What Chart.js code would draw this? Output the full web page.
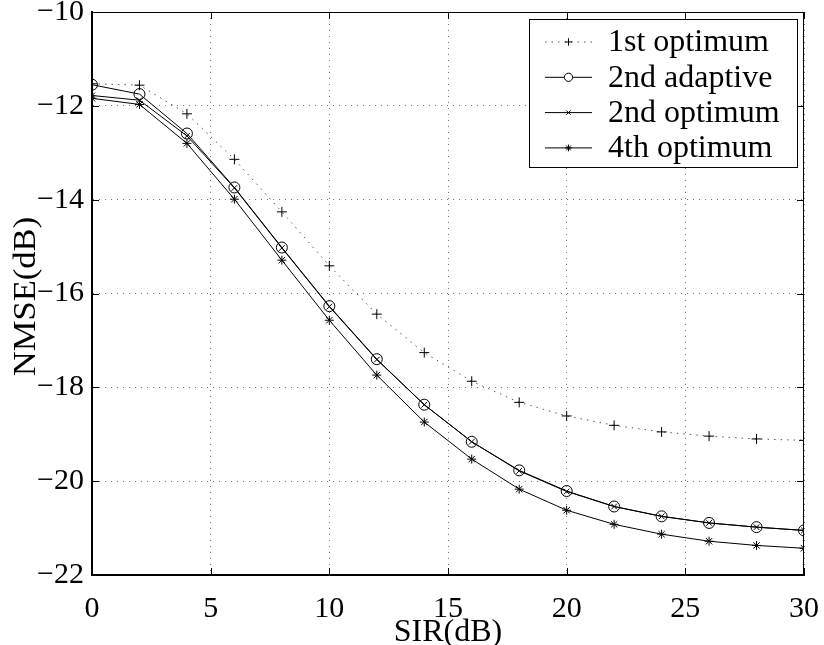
<!DOCTYPE html>
<html>
<head>
<meta charset="utf-8">
<script src="https://cdn.jsdelivr.net/npm/chart.js@4/dist/chart.umd.min.js"></script>
<style>
  html, body { margin: 0; padding: 0; background: #fff; }
  #wrap { width: 824px; height: 645px; }
</style>
</head>
<body>
<div id="wrap"><canvas id="c" width="824" height="645"></canvas></div>
<script>
// Signal-to-interference ratio (dB)
const sir = [0, 2, 4, 6, 8, 10, 12, 14, 16, 18, 20, 22, 24, 26, 28, 30];

// Normalised MSE (dB) for each equaliser
const firstOptimum   = [-11.53, -11.56, -12.17, -13.14, -14.26, -15.41, -16.44, -17.26, -17.87, -18.32, -18.61, -18.81, -18.95, -19.04, -19.10, -19.13];
const secondAdaptive = [-11.55, -11.75, -12.59, -13.74, -15.02, -16.27, -17.40, -18.37, -19.16, -19.77, -20.21, -20.54, -20.75, -20.89, -20.98, -21.05];
const secondOptimum  = [-11.78, -11.88, -12.64, -13.75, -15.03, -16.28, -17.41, -18.37, -19.16, -19.78, -20.22, -20.54, -20.75, -20.89, -20.98, -21.05];
const fourthOptimum  = [-11.84, -11.97, -12.80, -13.99, -15.29, -16.57, -17.74, -18.74, -19.53, -20.17, -20.62, -20.92, -21.13, -21.28, -21.37, -21.43];

const seriesNames = ['1st optimum', '2nd adaptive', '2nd optimum', '4th optimum'];

const xTicks = [0, 5, 10, 15, 20, 25, 30];
const yTicks = [-22, -20, -18, -16, -14, -12, -10];

const xTitle = 'SIR(dB)';
const yTitle = 'NMSE(dB)';

const FONT = "'Liberation Serif', 'Times New Roman', serif";
const fmt = v => (v < 0 ? '\u2212' + Math.abs(v) : String(v));

function series(label, values, pointStyle, radius, dash, color) {
  return {
    label,
    data: sir.map((x, i) => ({ x, y: values[i] })),
    borderColor: color,
    borderWidth: 1,
    borderDash: dash,
    pointStyle,
    pointRadius: radius,
    pointHoverRadius: radius,
    pointBorderColor: '#000',
    pointBackgroundColor: 'rgba(0,0,0,0)',
    pointBorderWidth: 1,
    fill: false,
    tension: 0
  };
}

const datasets = [
  series(seriesNames[0], firstOptimum, 'cross', 5, [1.5, 5], '#555'),
  series(seriesNames[1], secondAdaptive, 'circle', 5.5, [], '#000'),
  series(seriesNames[2], secondOptimum, 'crossRot', 4, [], '#000'),
  series(seriesNames[3], fourthOptimum, 'star', 4.5, [], '#000')
];

// Box outline, inward tick marks, the y-axis label and the line+marker legend
const framePlugin = {
  id: 'frame',
  afterDatasetsDraw(chart) {
    const { ctx, chartArea: a, scales } = chart;
    ctx.save();
    ctx.strokeStyle = '#000';
    ctx.setLineDash([]);
    ctx.lineWidth = 1;
    ctx.beginPath();
    ctx.moveTo(a.left, a.top + 0.5); ctx.lineTo(a.right, a.top + 0.5);
    ctx.moveTo(a.right - 0.5, a.top); ctx.lineTo(a.right - 0.5, a.bottom);
    const tl = 7;
    xTicks.forEach(v => {
      const px = Math.round(scales.x.getPixelForValue(v)) + 0.5;
      ctx.moveTo(px, a.bottom); ctx.lineTo(px, a.bottom - tl);
      ctx.moveTo(px, a.top); ctx.lineTo(px, a.top + tl);
    });
    yTicks.forEach(v => {
      const py = Math.round(scales.y.getPixelForValue(v)) + 0.5;
      ctx.moveTo(a.left, py); ctx.lineTo(a.left + tl, py);
      ctx.moveTo(a.right, py); ctx.lineTo(a.right - tl, py);
    });
    ctx.stroke();

    // vertical axis label, slightly widened along its run
    ctx.save();
    ctx.translate(27, (a.top + a.bottom) / 2 + 3);
    ctx.rotate(-Math.PI / 2);
    ctx.scale(1.08, 1);
    ctx.font = '32px ' + FONT;
    ctx.fillStyle = '#000';
    ctx.textAlign = 'center';
    ctx.textBaseline = 'middle';
    ctx.fillText(yTitle, 0, 0);
    ctx.restore();

    // legend
    const boxW = 268, boxH = 148;
    const bx = a.right - 7 - boxW, by = a.top + 7;
    ctx.fillStyle = '#fff';
    ctx.fillRect(bx, by, boxW, boxH);
    ctx.lineWidth = 1;
    ctx.strokeRect(bx + 0.5, by + 0.5, boxW, boxH);
    const rowH = 35.3;
    ctx.font = '32px ' + FONT;
    ctx.textBaseline = 'middle';
    ctx.textAlign = 'left';
    chart.data.datasets.forEach((ds, i) => {
      const cy = by + 23 + i * rowH;
      const x0 = bx + 16, x1 = bx + 63;
      ctx.strokeStyle = ds.borderColor;
      ctx.lineWidth = 1;
      ctx.setLineDash(ds.borderDash || []);
      ctx.beginPath();
      ctx.moveTo(x0, cy); ctx.lineTo(x1, cy);
      ctx.stroke();
      ctx.setLineDash([]);
      ctx.strokeStyle = '#000';
      ctx.fillStyle = '#fff';
      Chart.helpers.drawPoint(ctx, {
        pointStyle: ds.pointStyle,
        radius: ds.pointRadius * 0.75,
        borderWidth: 1,
        rotation: 0
      }, (x0 + x1) / 2, cy);
      ctx.fillStyle = '#000';
      ctx.fillText(ds.label, bx + 79, cy + 1);
    });
    ctx.restore();
  }
};

new Chart(document.getElementById('c'), {
  type: 'line',
  data: { datasets },
  options: {
    responsive: false,
    animation: false,
    devicePixelRatio: 1,
    layout: { padding: { left: 0, right: 20, top: 12, bottom: 0 } },
    plugins: { legend: { display: false }, tooltip: { enabled: false } },
    scales: {
      x: {
        type: 'linear',
        min: 0, max: 30,
        afterBuildTicks: s => { s.ticks = xTicks.map(v => ({ value: v })); },
        afterFit: s => { s.height = 70; s.paddingLeft = 0; s.paddingRight = 0; },
        ticks: {
          color: '#000',
          font: { family: FONT, size: 30, lineHeight: 1 },
          padding: 19,
          maxRotation: 0,
          callback: v => fmt(v)
        },
        grid: { color: 'rgba(0,0,0,0.55)', lineWidth: 1, drawTicks: false },
        border: { display: true, color: '#000', width: 2, dash: [1, 5] },
        title: {
          display: true, text: xTitle, color: '#000',
          font: { family: FONT, size: 32, lineHeight: 0.8 },
          padding: { top: 0, bottom: 0 }
        }
      },
      y: {
        type: 'linear',
        min: -22, max: -10,
        afterBuildTicks: s => { s.ticks = yTicks.map(v => ({ value: v })); },
        afterFit: s => { s.width = 92; s.paddingTop = 0; s.paddingBottom = 0; },
        ticks: {
          color: '#000',
          font: { family: FONT, size: 30, lineHeight: 1 },
          padding: 8,
          callback: v => fmt(v)
        },
        grid: { color: 'rgba(0,0,0,0.55)', lineWidth: 1, drawTicks: false },
        border: { display: true, color: '#000', width: 2, dash: [1, 5] },
        title: { display: false }
      }
    }
  },
  plugins: [framePlugin]
});
</script>
</body>
</html>
